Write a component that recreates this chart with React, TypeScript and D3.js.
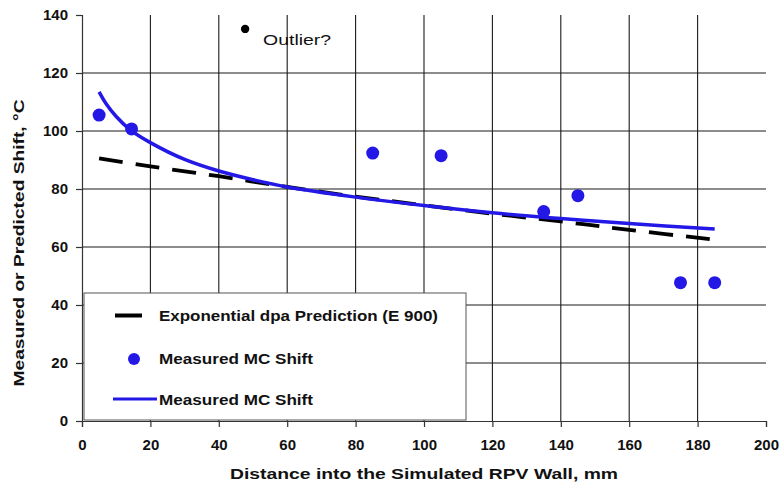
import * as d3 from 'd3';
import React, {useEffect, useRef} from 'react';

// values
const xTicks = [0, 20, 40, 60, 80, 100, 120, 140, 160, 180, 200];
const yTicks = [0, 20, 40, 60, 80, 100, 120, 140];

const measuredX = [5, 14.5, 85, 105, 135, 145, 175, 185];
const measuredY = [105.5, 100.7, 92.4, 91.5, 72.2, 77.7, 47.7, 47.7];

const fitX = [5, 7, 10, 14, 20, 30, 40, 50, 60, 80, 100, 120, 140, 160, 185];
const fitY = [113.5, 109.5, 105, 100.5, 96, 90.2, 86.2, 83.2, 80.7, 77.2, 74.3, 71.8, 69.8, 68.1, 66.2];

const predX = [5, 20, 40, 60, 80, 100, 120, 140, 160, 185];
const predY = [90.6, 87.8, 84.4, 80.7, 77.4, 74.4, 71.5, 68.8, 65.9, 62.5];

const outlier = {x: 47.7, y: 135.2, label: 'Outlier?'};

const legendItems = ['Exponential dpa Prediction (E 900)', 'Measured MC Shift', 'Measured MC Shift'];

const FONT = '"Liberation Sans", Arial, sans-serif';
const BLUE = '#2418e6';

export default function App() {
  const ref = useRef<SVGSVGElement>(null);

  useEffect(() => {
    draw();
  }, []);

  function draw() {
    const svg = d3.select(ref.current);
    svg.selectAll('*').remove();

    const left = 82, right = 766, top = 15, bottom = 421;

    const x = d3.scaleLinear().domain([0, 200]).range([left, right]);
    const y = d3.scaleLinear().domain([0, 140]).range([bottom, top]);

    svg.append('rect').attr('width', 780).attr('height', 483).attr('fill', '#fff');

    // grid
    const grid = svg.append('g').attr('stroke', '#1a1a1a').attr('stroke-width', 1.1);
    grid.selectAll('line.v')
      .data(xTicks.filter(d => d > 0 && d < 200))
      .enter().append('line')
      .attr('x1', d => x(d)).attr('x2', d => x(d))
      .attr('y1', y(140)).attr('y2', y(0));
    grid.selectAll('line.h')
      .data(yTicks.filter(d => d > 0 && d < 140))
      .enter().append('line')
      .attr('x1', x(0)).attr('x2', x(200))
      .attr('y1', d => y(d)).attr('y2', d => y(d));

    // axes
    const xAxis = svg.append('g')
      .attr('transform', 'translate(0,' + bottom + ')')
      .call(d3.axisBottom(x).tickValues(xTicks).tickSize(6).tickPadding(12));
    const yAxis = svg.append('g')
      .attr('transform', 'translate(' + left + ',0)')
      .call(d3.axisLeft(y).tickValues(yTicks).tickSize(6).tickPadding(8));
    [xAxis, yAxis].forEach(a => {
      a.select('.domain').attr('stroke', '#333').attr('stroke-width', 1.2);
      a.selectAll('.tick line').attr('stroke', '#333').attr('stroke-width', 1.2);
      a.selectAll('.tick text')
        .attr('fill', '#111')
        .style('font-family', FONT)
        .style('font-size', '15px')
        .style('font-weight', 'bold');
    });

    // legend box (covers lower-left grid)
    svg.append('rect')
      .attr('x', 84).attr('y', 293)
      .attr('width', 382).attr('height', 127)
      .attr('fill', '#fff').attr('stroke', '#555').attr('stroke-width', 1);

    const line = d3.line<[number, number]>()
      .x(d => x(d[0])).y(d => y(d[1]))
      .curve(d3.curveCatmullRom.alpha(0.5));

    // prediction (dashed)
    svg.append('path')
      .datum(predX.map((d, i) => [d, predY[i]] as [number, number]))
      .attr('fill', 'none')
      .attr('stroke', '#000')
      .attr('stroke-width', 3.8)
      .attr('stroke-dasharray', '24,13')
      .attr('d', line);

    // fit curve
    svg.append('path')
      .datum(fitX.map((d, i) => [d, fitY[i]] as [number, number]))
      .attr('fill', 'none')
      .attr('stroke', BLUE)
      .attr('stroke-width', 3.5)
      .attr('d', line);

    // measured points
    svg.append('g')
      .selectAll('circle')
      .data(measuredX.map((d, i) => [d, measuredY[i]]))
      .enter().append('circle')
      .attr('cx', d => x(d[0]))
      .attr('cy', d => y(d[1]))
      .attr('r', 6.5)
      .attr('fill', BLUE);

    // outlier
    svg.append('circle')
      .attr('cx', x(outlier.x)).attr('cy', y(outlier.y))
      .attr('r', 4.2).attr('fill', '#000');
    svg.append('text')
      .attr('x', x(outlier.x) + 18).attr('y', y(outlier.y) + 16)
      .attr('textLength', 68).attr('lengthAdjust', 'spacingAndGlyphs')
      .style('font-family', FONT).style('font-size', '15px')
      .attr('fill', '#111')
      .text(outlier.label);

    // legend contents
    const lg = svg.append('g');
    lg.append('line')
      .attr('x1', 115).attr('x2', 142).attr('y1', 315.5).attr('y2', 315.5)
      .attr('stroke', '#000').attr('stroke-width', 4);
    lg.append('circle').attr('cx', 134).attr('cy', 359).attr('r', 6).attr('fill', BLUE);
    lg.append('line')
      .attr('x1', 113).attr('x2', 157).attr('y1', 399).attr('y2', 399)
      .attr('stroke', BLUE).attr('stroke-width', 3);
    const legendY = [321, 364, 405];
    const legendW = [279, 154, 154];
    lg.selectAll('text')
      .data(legendItems)
      .enter().append('text')
      .attr('x', 159)
      .attr('y', (d, i) => legendY[i])
      .attr('textLength', (d, i) => legendW[i])
      .attr('lengthAdjust', 'spacingAndGlyphs')
      .attr('fill', '#111')
      .style('font-family', FONT).style('font-size', '14px').style('font-weight', 'bold')
      .text(d => d);

    // axis titles
    svg.append('text')
      .attr('x', 424).attr('y', 479)
      .attr('text-anchor', 'middle')
      .attr('textLength', 388).attr('lengthAdjust', 'spacingAndGlyphs')
      .attr('fill', '#111')
      .style('font-family', FONT).style('font-size', '15px').style('font-weight', 'bold')
      .text('Distance into the Simulated RPV Wall, mm');
    svg.append('text')
      .attr('transform', 'translate(24,243) rotate(-90)')
      .attr('text-anchor', 'middle')
      .attr('textLength', 287).attr('lengthAdjust', 'spacingAndGlyphs')
      .attr('fill', '#111')
      .style('font-family', FONT).style('font-size', '14px').style('font-weight', 'bold')
      .text('Measured or Predicted Shift, °C');
  }

  return (
    <svg ref={ref} width={780} height={483}
      style={{position: 'absolute', left: 0, top: 0, display: 'block'}}></svg>
  );
}
